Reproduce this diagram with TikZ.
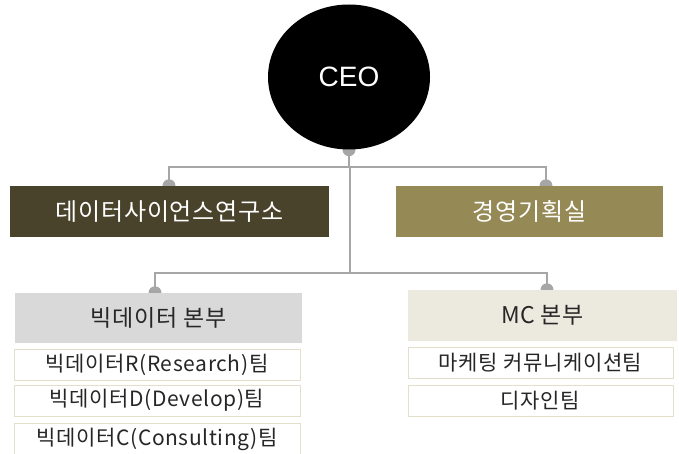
\documentclass[tikz,border=0pt]{standalone}
\usepackage{fontspec}
\setmainfont{Noto Sans CJK KR}[LetterSpace=3]
\newfontfamily\latinf{Liberation Sans}
\usetikzlibrary{shapes.geometric,backgrounds}
\definecolor{connc}{HTML}{A6A6A6}
\definecolor{darkolive}{HTML}{4A432C}
\definecolor{olive}{HTML}{958A56}
\definecolor{lgrey}{HTML}{D9D9D9}
\definecolor{lbeige}{HTML}{ECE9DE}
\definecolor{subline}{HTML}{E3DFCB}
\definecolor{txt}{HTML}{262626}
\begin{document}
\begin{tikzpicture}[x=1pt,y=-1pt,
  conn/.style={draw=connc,line width=2.4pt},
  dot/.style={fill=connc},
  topbox/.style={rectangle,inner sep=0pt,minimum height=51pt,text=white,font=\fontsize{24}{28}\selectfont},
  unitbox/.style={rectangle,inner sep=0pt,minimum height=50pt,text=txt,font=\fontsize{23}{27}\selectfont},
  teambox/.style={rectangle,draw=subline,line width=1pt,fill=white,inner sep=0pt,minimum height=31pt,text=txt,font=\fontsize{21}{25}\selectfont}]
\useasboundingbox (0,0) rectangle (679,454);
\node[ellipse,fill=black,inner sep=0pt,minimum width=162pt,minimum height=145pt,text=white,font=\latinf\fontsize{28}{32}\selectfont] (ceo) at (349,77) {CEO};
\node[topbox,fill=darkolive,minimum width=319pt] (dsl) at (169.5,211.5) {데이터사이언스연구소};
\node[topbox,fill=olive,minimum width=267pt] (plan) at (529.5,211.5) {경영기획실};
\node[unitbox,fill=lgrey,minimum width=287pt] (bd) at (158.5,318) {빅데이터 본부};
\node[unitbox,fill=lbeige,minimum width=269pt,minimum height=51pt] (mc) at (542.5,315.5) {MC 본부};
\node[teambox,minimum width=286pt] (r1) at (157,364.5) {빅데이터R(Research)팀};
\node[teambox,minimum width=286pt] (r2) at (157,400.5) {빅데이터D(Develop)팀};
\node[teambox,minimum width=286pt,minimum height=32pt] (r3) at (157,439) {빅데이터C(Consulting)팀};
\node[teambox,minimum width=265pt] (m1) at (540.5,362.5) {마케팅 커뮤니케이션팀};
\node[teambox,minimum width=265pt] (m2) at (540.5,400.5) {디자인팀};
\coordinate (j1) at (349,167);
\coordinate (j2) at (350,273);
\begin{scope}[on background layer]
  \draw[conn] (ceo.south) -- (j1);
  \draw[conn] (j1) -| ([xshift=-0.5pt]dsl.north);
  \draw[conn] (j1) -| ([xshift=16.5pt]plan.north);
  \draw[conn] (j1 -| j2) -- (j2);
  \draw[conn] (j2) -| ([xshift=-3.5pt]bd.north);
  \draw[conn] (j2) -| ([xshift=4.5pt]mc.north);
  \fill[dot] (ceo.south) circle (6.5pt);
  \fill[dot] ([xshift=-0.5pt]dsl.north) circle (6.5pt);
  \fill[dot] ([xshift=16.5pt]plan.north) circle (6.5pt);
  \fill[dot] ([xshift=-3.5pt]bd.north) circle (6.5pt);
  \fill[dot] ([xshift=4.5pt]mc.north) circle (6.5pt);
\end{scope}
\end{tikzpicture}
\end{document}
